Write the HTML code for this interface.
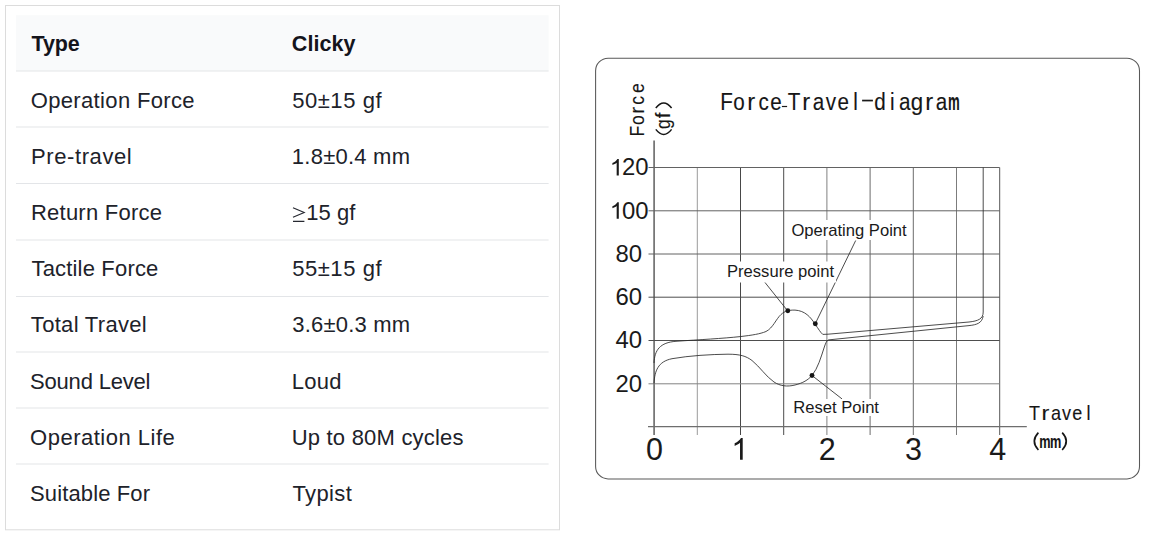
<!DOCTYPE html>
<html><head><meta charset="utf-8"><title>Switch specifications</title>
<style>
html,body{margin:0;padding:0;background:#fff;}
body{width:1151px;height:541px;overflow:hidden;position:relative;font-family:"Liberation Sans",sans-serif;}
svg{position:absolute;left:0;top:0;display:block;}
text{font-family:"Liberation Sans",sans-serif;}
.t{font-size:22px;fill:#20222a;}
.h{font-size:21.5px;font-weight:bold;fill:#14141c;}
.g{stroke:#686868;stroke-width:1;fill:none;}
.c{stroke:#2c2c2c;stroke-width:.85;fill:none;}
.lab{font-size:16.6px;fill:#1a1a1a;}
.yl{font-size:23.2px;fill:#1a1a1a;text-anchor:middle;}
.xl{font-size:30.5px;fill:#1a1a1a;text-anchor:middle;}
.cad{font-size:21px;fill:#161616;text-anchor:middle;stroke:#161616;stroke-width:.12px;}
</style></head><body>
<svg width="1151" height="541" viewBox="0 0 1151 541">

<rect x="5.5" y="5.5" width="554" height="524.3" fill="#fff" stroke="#dcdcdc" stroke-width="1"/>
<rect x="16" y="15.2" width="532.6" height="55.8" fill="#f9fafb"/>
<rect x="16" y="70.5" width="532.6" height="1" fill="#e3e5e8"/>
<rect x="16" y="126.5" width="532.6" height="1" fill="#e3e5e8"/>
<rect x="16" y="183.0" width="532.6" height="1" fill="#e3e5e8"/>
<rect x="16" y="239.5" width="532.6" height="1" fill="#e3e5e8"/>
<rect x="16" y="296.0" width="532.6" height="1" fill="#e3e5e8"/>
<rect x="16" y="351.5" width="532.6" height="1" fill="#e3e5e8"/>
<rect x="16" y="407.5" width="532.6" height="1" fill="#e3e5e8"/>
<rect x="16" y="463.5" width="532.6" height="1" fill="#e3e5e8"/>
<text class="h" x="31.60" y="51.45" letter-spacing="-0.180">Type</text>
<text class="t" x="30.68" y="107.65" letter-spacing="0.354">Operation Force</text>
<text class="t" x="30.96" y="163.85" letter-spacing="0.602">Pre-travel</text>
<text class="t" x="30.96" y="220.05" letter-spacing="0.235">Return Force</text>
<text class="t" x="31.52" y="276.25" letter-spacing="0.173">Tactile Force</text>
<text class="t" x="30.84" y="332.45" letter-spacing="0.307">Total Travel</text>
<text class="t" x="30.04" y="388.65" letter-spacing="-0.184">Sound Level</text>
<text class="t" x="30.04" y="444.85" letter-spacing="0.506">Operation Life</text>
<text class="t" x="30.04" y="501.05" letter-spacing="0.122">Suitable For</text>
<text class="h" x="291.86" y="51.45" letter-spacing="0.032">Clicky</text>
<text class="t" x="292.14" y="107.65" letter-spacing="0.566">50±15 gf</text>
<text class="t" x="291.86" y="163.85" letter-spacing="0.238">1.8±0.4 mm</text>
<text class="t" x="306.24" y="220.05" letter-spacing="0.030">15 gf</text>
<text class="t" x="292.14" y="276.25" letter-spacing="0.566">55±15 gf</text>
<text class="t" x="292.34" y="332.45" letter-spacing="0.184">3.6±0.3 mm</text>
<text class="t" x="291.70" y="388.65" letter-spacing="0.327">Loud</text>
<text class="t" x="291.70" y="444.85" letter-spacing="0.209">Up to 80M cycles</text>
<text class="t" x="292.50" y="501.05" letter-spacing="0.380">Typist</text>
<path d="M293,207.7 L304.2,212.5 L293,217.3 M293,221.3 L304.4,221.3" fill="none" stroke="#262830" stroke-width="1.15"/>
<rect x="595.6" y="58.3" width="543.9" height="420.6" rx="12.5" ry="12.5" fill="#fff" stroke="#585858" stroke-width="1.05"/>
<line class="g" style="stroke:#9a9a9a" x1="697.3" y1="167.5" x2="697.3" y2="435.0"/>
<line class="g" style="stroke:#484848" x1="740.5" y1="167.5" x2="740.5" y2="435.0"/>
<line class="g" style="stroke:#4c4c4c" x1="783.7" y1="167.5" x2="783.7" y2="435.0"/>
<line class="g" style="stroke:#808080" x1="826.9" y1="167.5" x2="826.9" y2="435.0"/>
<line class="g" style="stroke:#6c6c6c" x1="870.1" y1="167.5" x2="870.1" y2="435.0"/>
<line class="g" style="stroke:#6c6c6c" x1="913.3" y1="167.5" x2="913.3" y2="435.0"/>
<line class="g" style="stroke:#7c7c7c" x1="956.5" y1="167.5" x2="956.5" y2="435.0"/>
<line class="g" style="stroke:#585858" x1="999.7" y1="167.5" x2="999.7" y2="435.0"/>
<line class="g" style="stroke:#707070;stroke-width:1.7" x1="654.1" y1="140.5" x2="654.1" y2="435.0"/>
<line class="g" style="stroke:#828282" x1="648.5" y1="383.8" x2="999.7" y2="383.8"/>
<line class="g" style="stroke:#4e4e4e" x1="648.5" y1="340.5" x2="999.7" y2="340.5"/>
<line class="g" style="stroke:#4e4e4e" x1="648.5" y1="297.2" x2="999.7" y2="297.2"/>
<line class="g" style="stroke:#626262" x1="648.5" y1="254.0" x2="999.7" y2="254.0"/>
<line class="g" style="stroke:#626262" x1="648.5" y1="210.8" x2="999.7" y2="210.8"/>
<line class="g" style="stroke:#626262" x1="648.5" y1="167.5" x2="999.7" y2="167.5"/>
<line class="g" style="stroke:#6e6e6e;stroke-width:1.3" x1="648" y1="426.7" x2="1026.8" y2="426.7"/>
<path class="c" d="M654,363 C654.6,350 660,342.5 676,341.3 C700,339.6 722,338.6 741,336.5 C752,335.2 760,334 766,331.5 C773,328 776,319 781,314.5 C785,310.8 789,310 795,310.1 C805,310.7 810.5,317 815,324 C818.5,329 820.5,332.5 822.8,334.4 L828,334.2 L969,322 C978,321 983.2,319 983.2,312 L983.2,167.5"/>
<path class="c" d="M654,383.5 C654.6,371 658,361.5 672,358.7 C690,355.6 710,354.4 728,354.2 C740,354.2 746,356 752,360.5 C760,367 766,376.5 774,382 C780,386 787,387 795,385 C803,383 808,380 812,375.5 C818,368 821,357 824,348 C825.5,343.5 826.5,340.6 828.5,339.9 L969,325.6 C977,324.8 982,323 983.2,316"/>
<line class="c" x1="855.7" y1="240.5" x2="815.3" y2="323.6"/>
<line class="c" x1="763.9" y1="281.1" x2="787.6" y2="310.8"/>
<line class="c" x1="842" y1="398.9" x2="812" y2="375.5"/>
<circle cx="815.3" cy="323.8" r="2.45" fill="#151515"/>
<circle cx="787.8" cy="310.8" r="2.45" fill="#151515"/>
<circle cx="812.0" cy="375.5" r="2.45" fill="#151515"/>
<rect x="789" y="220" width="121" height="20" fill="#fff"/>
<text class="lab" x="791.4" y="236.1">Operating Point</text>
<rect x="725" y="261.5" width="111" height="21" fill="#fff"/>
<text class="lab" x="727" y="277.1">Pressure point</text>
<rect x="791" y="399" width="90" height="17" fill="#fff"/>
<text class="lab" x="793.2" y="413.1">Reset Point</text>
<text class="yl" transform="translate(628.8,391.6) scale(1.03,1)" x="0" y="0">20</text>
<text class="yl" transform="translate(628.8,348.4) scale(1.03,1)" x="0" y="0">40</text>
<text class="yl" transform="translate(628.8,305.1) scale(1.03,1)" x="0" y="0">60</text>
<text class="yl" transform="translate(628.8,261.9) scale(1.03,1)" x="0" y="0">80</text>
<path d="M763 0H583V1147Q518 1085 412.5 1023T223 930V1104Q373 1175 485 1275T644 1469H763Z" fill="#1a1a1a" transform="translate(609.75,218.85) scale(0.01187,-0.01130)"/>
<text class="yl" style="text-anchor:end" transform="translate(648.6,218.7) scale(1.03,1)" x="0" y="0">00</text>
<path d="M763 0H583V1147Q518 1085 412.5 1023T223 930V1104Q373 1175 485 1275T644 1469H763Z" fill="#1a1a1a" transform="translate(609.75,175.60) scale(0.01187,-0.01130)"/>
<text class="yl" style="text-anchor:end" transform="translate(648.6,175.4) scale(1.03,1)" x="0" y="0">20</text>
<text class="xl" transform="translate(654.4,459.6) scale(1,1.03)" x="0" y="0">0</text>
<path d="M763 0H583V1147Q518 1085 412.5 1023T223 930V1104Q373 1175 485 1275T644 1469H763Z" fill="#1a1a1a" transform="translate(731.33,459.80) scale(0.01491,-0.01491)"/>
<text class="xl" transform="translate(827.2,459.6) scale(1,1.03)" x="0" y="0">2</text>
<text class="xl" transform="translate(913.6,459.6) scale(1,1.03)" x="0" y="0">3</text>
<text class="xl" transform="translate(997.8,459.6) scale(1,1.03)" x="0" y="0">4</text>
<text class="cad" style="font-size:24.0px" transform="translate(726.50,109.80) scale(0.860,1)" x="0" y="0">F</text><text class="cad" style="font-size:24.0px" transform="translate(738.90,109.80) scale(0.860,1)" x="0" y="0">o</text><text class="cad" style="font-size:24.0px" transform="translate(751.30,109.80) scale(0.989,1)" x="0" y="0">r</text><text class="cad" style="font-size:24.0px" transform="translate(763.70,109.80) scale(0.860,1)" x="0" y="0">c</text><text class="cad" style="font-size:24.0px" transform="translate(776.10,109.80) scale(0.860,1)" x="0" y="0">e</text><text class="cad" style="font-size:24.0px" transform="translate(794.00,109.80) scale(0.860,1)" x="0" y="0">T</text><text class="cad" style="font-size:24.0px" transform="translate(806.30,109.80) scale(0.989,1)" x="0" y="0">r</text><text class="cad" style="font-size:24.0px" transform="translate(818.60,109.80) scale(0.860,1)" x="0" y="0">a</text><text class="cad" style="font-size:24.0px" transform="translate(830.90,109.80) scale(0.860,1)" x="0" y="0">v</text><text class="cad" style="font-size:24.0px" transform="translate(843.20,109.80) scale(0.860,1)" x="0" y="0">e</text><text class="cad" style="font-size:24.0px" transform="translate(855.50,109.80) scale(0.860,1)" x="0" y="0">l</text><text class="cad" style="font-size:24.0px" transform="translate(880.10,109.80) scale(0.860,1)" x="0" y="0">d</text><text class="cad" style="font-size:24.0px" transform="translate(892.40,109.80) scale(0.860,1)" x="0" y="0">i</text><text class="cad" style="font-size:24.0px" transform="translate(904.70,109.80) scale(0.860,1)" x="0" y="0">a</text><text class="cad" style="font-size:24.0px" transform="translate(917.00,109.80) scale(0.929,1)" x="0" y="0">g</text><text class="cad" style="font-size:24.0px" transform="translate(929.30,109.80) scale(0.989,1)" x="0" y="0">r</text><text class="cad" style="font-size:24.0px" transform="translate(941.60,109.80) scale(0.860,1)" x="0" y="0">a</text><text class="cad" style="font-size:24.0px;font-weight:bold" transform="translate(953.90,109.80) scale(0.550,1)" x="0" y="0">m</text>
<rect x="781.9" y="105.9" width="5.2" height="1.2" fill="#1a1a1a"/>
<rect x="862.1" y="99.7" width="10.8" height="1.7" fill="#1a1a1a"/>
<text class="cad" style="font-size:20.5px" transform="translate(1034.60,420.30) scale(0.880,1)" x="0" y="0">T</text><text class="cad" style="font-size:20.5px" transform="translate(1045.40,420.30) scale(1.144,1)" x="0" y="0">r</text><text class="cad" style="font-size:20.5px" transform="translate(1055.90,420.30) scale(0.880,1)" x="0" y="0">a</text><text class="cad" style="font-size:20.5px" transform="translate(1066.40,420.30) scale(0.880,1)" x="0" y="0">v</text><text class="cad" style="font-size:20.5px" transform="translate(1077.20,420.30) scale(0.880,1)" x="0" y="0">e</text><text class="cad" style="font-size:20.5px" transform="translate(1088.40,420.30) scale(0.880,1)" x="0" y="0">l</text>
<text class="cad" style="font-size:18.2px;font-weight:bold" transform="translate(1044.80,447.90) scale(0.700,1)" x="0" y="0">m</text><text class="cad" style="font-size:18.2px;font-weight:bold" transform="translate(1055.70,447.90) scale(0.700,1)" x="0" y="0">m</text>
<path class="c" style="stroke:#161616;stroke-width:1.6" d="M1038.4,432.6 Q1030.2,441.3 1038.4,450"/>
<path class="c" style="stroke:#161616;stroke-width:1.6" d="M1062.2,432.6 Q1070.4,441.3 1062.2,450"/>
<g transform="translate(643.9,0) rotate(-90)"><text class="cad" style="font-size:20.5px" transform="translate(-131.00,0.00) scale(0.860,1)" x="0" y="0">F</text><text class="cad" style="font-size:20.5px" transform="translate(-120.00,0.00) scale(0.860,1)" x="0" y="0">o</text><text class="cad" style="font-size:20.5px" transform="translate(-110.30,0.00) scale(0.946,1)" x="0" y="0">r</text><text class="cad" style="font-size:20.5px" transform="translate(-100.30,0.00) scale(0.860,1)" x="0" y="0">c</text><text class="cad" style="font-size:20.5px" transform="translate(-88.00,0.00) scale(0.860,1)" x="0" y="0">e</text></g>
<g transform="translate(669.8,0) rotate(-90)"><text class="cad" style="font-size:19.5px" transform="translate(-124.10,0.00) scale(0.900,1)" x="0" y="0">g</text><text class="cad" style="font-size:19.5px" transform="translate(-115.40,0.00) scale(1.062,1)" x="0" y="0">f</text></g>
<path class="c" style="stroke:#161616;stroke-width:1.5" d="M655.8,129.4 Q663.7,139.6 671.6,129.4"/>
<path class="c" style="stroke:#161616;stroke-width:1.5" d="M655.8,108.0 Q663.7,97.8 671.6,108.0"/>
</svg></body></html>
